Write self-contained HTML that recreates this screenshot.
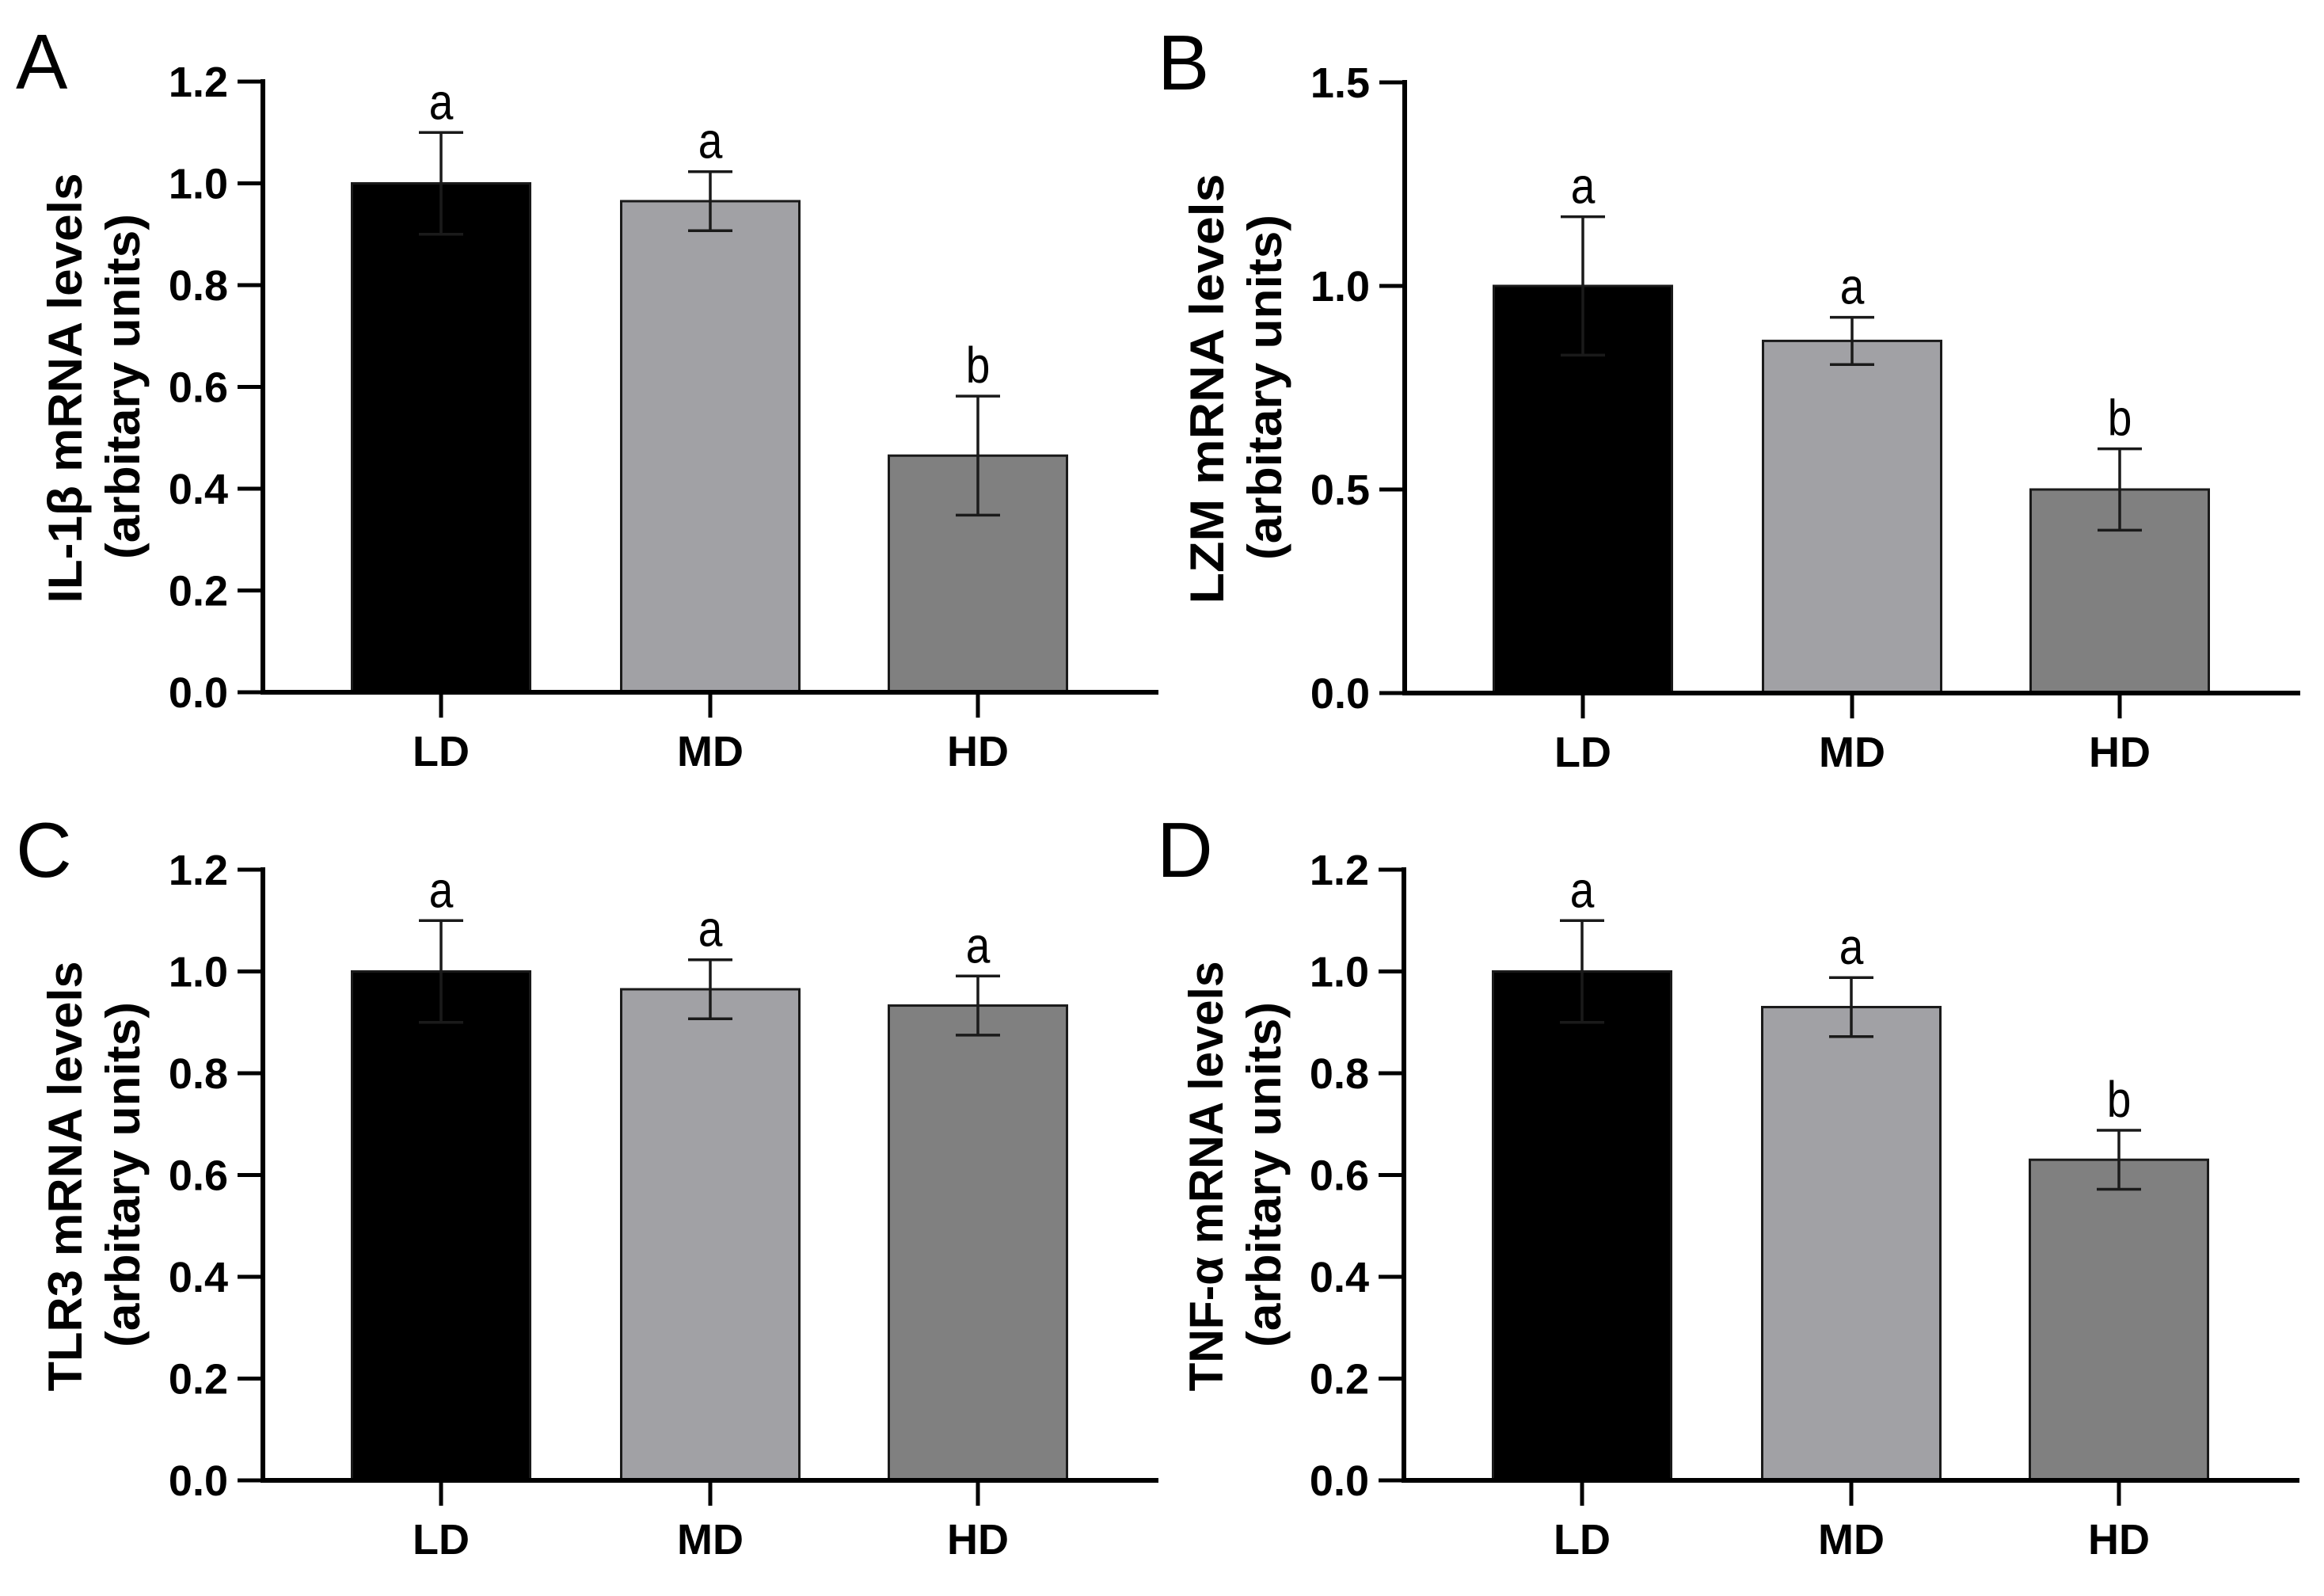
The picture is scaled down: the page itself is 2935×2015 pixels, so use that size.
<!DOCTYPE html>
<html><head><meta charset="utf-8">
<style>
html,body{margin:0;padding:0;background:#fff;}
svg{display:block;}
text{font-family:"Liberation Sans",Arial,sans-serif;}
</style></head>
<body>
<svg id="fig" width="2935" height="2015" viewBox="0 0 2935 2015" xmlns="http://www.w3.org/2000/svg"></svg>
<script>
// ---- data ----
const categories = ["LD", "MD", "HD"];
const barColors = ["#000000", "#a1a1a5", "#808080"];

const panelLetters = ["A", "B", "C", "D"];
const panelTitles = ["IL-1β mRNA levels", "LZM mRNA levels", "TLR3 mRNA levels", "TNF-α mRNA levels"];

const valuesA = [1.0, 0.965, 0.465];
const errorsA = [0.1, 0.058, 0.117];
const lettersA = ["a", "a", "b"];
const ticksA = [0.0, 0.2, 0.4, 0.6, 0.8, 1.0, 1.2];
const tickLabelsA = ["0.0", "0.2", "0.4", "0.6", "0.8", "1.0", "1.2"];

const valuesB = [1.0, 0.865, 0.5];
const errorsB = [0.17, 0.058, 0.1];
const lettersB = ["a", "a", "b"];
const ticksB = [0.0, 0.5, 1.0, 1.5];
const tickLabelsB = ["0.0", "0.5", "1.0", "1.5"];

const valuesC = [1.0, 0.965, 0.933];
const errorsC = [0.1, 0.058, 0.058];
const lettersC = ["a", "a", "a"];
const ticksC = [0.0, 0.2, 0.4, 0.6, 0.8, 1.0, 1.2];
const tickLabelsC = ["0.0", "0.2", "0.4", "0.6", "0.8", "1.0", "1.2"];

const valuesD = [1.0, 0.93, 0.63];
const errorsD = [0.1, 0.058, 0.058];
const lettersD = ["a", "a", "b"];
const ticksD = [0.0, 0.2, 0.4, 0.6, 0.8, 1.0, 1.2];
const tickLabelsD = ["0.0", "0.2", "0.4", "0.6", "0.8", "1.0", "1.2"];

const NS = "http://www.w3.org/2000/svg";
const svg = document.getElementById("fig");
function mk(tag, attrs, parent) {
  const e = document.createElementNS(NS, tag);
  for (const k in attrs) e.setAttribute(k, attrs[k]);
  (parent || svg).appendChild(e);
  return e;
}

function drawPanel(idx, ox, oy, values, errors, letters, ticks, tickLabels) {
  const g = mk("g", {transform: "translate(" + ox + "," + oy + ")"});
  
  
  const axX = 332, y0 = 874, yTop = 103, xEnd = 1463;
  const yMax = ticks[ticks.length - 1];
  const yScale = v => y0 - (v / yMax) * (y0 - yTop);
  const centers = [557, 897, 1235];
  const xScale = i => centers[i];
  const bw = 225;

  const pl = mk("text", {x: 20, y: 112, "font-size": 98}, g);
  pl.textContent = panelLetters[idx];
  
  

  const yl = mk("text", {transform: "translate(103,490) rotate(-90)", "text-anchor": "middle", "font-size": 60, "font-weight": "bold", textLength: 543, lengthAdjust: "spacingAndGlyphs"}, g);
  yl.textContent = panelTitles[idx];
  
  
  const yl2 = mk("text", {transform: "translate(176,488) rotate(-90)", "text-anchor": "middle", "font-size": 60, "font-weight": "bold", textLength: 436, lengthAdjust: "spacingAndGlyphs"}, g);
  yl2.textContent = "(arbitary units)";
  
  

  values.forEach((v, i) => {
    const cx = xScale(i);
    const r = mk("rect", {x: cx - bw / 2, y: yScale(v), width: bw, height: y0 - yScale(v), fill: barColors[i], stroke: "#1a1a1a", "stroke-width": 3}, g);
    
    
    const hi = yScale(v + errors[i]), lo = yScale(v - errors[i]);
    const eb = mk("path", {d: "M" + cx + " " + hi + "V" + lo + "M" + (cx - 28) + " " + hi + "H" + (cx + 28) + "M" + (cx - 28) + " " + lo + "H" + (cx + 28), stroke: "#1a1a1a", "stroke-width": 3.5, fill: "none"}, g);
    
    
    const sl = mk("text", {transform: "translate(" + cx + "," + (hi - 17) + ") scale(0.86,1)", "text-anchor": "middle", "font-size": 64}, g);
    sl.textContent = letters[i];
    
    
  });

  const ya = mk("line", {x1: axX, y1: yTop - 3, x2: axX, y2: y0 + 3, stroke: "#000", "stroke-width": 6}, g);
  
  
  const xa = mk("line", {x1: axX - 3, y1: y0, x2: xEnd, y2: y0, stroke: "#000", "stroke-width": 6}, g);
  
  

  ticks.forEach((t, i) => {
    const y = yScale(t);
    mk("line", {x1: 300, y1: y, x2: axX, y2: y, stroke: "#000", "stroke-width": 5}, g);
    const tl = mk("text", {x: 288, y: y + 19, "text-anchor": "end", "font-size": 54, "font-weight": "bold"}, g);
    tl.textContent = tickLabels[i];
    
    
  });
  categories.forEach((c, i) => {
    const cx = xScale(i);
    mk("line", {x1: cx, y1: y0, x2: cx, y2: 906, stroke: "#000", "stroke-width": 5}, g);
    const cl = mk("text", {x: cx, y: 967, "text-anchor": "middle", "font-size": 54, "font-weight": "bold"}, g);
    cl.textContent = c;
    
    
  });
}

drawPanel(0, 0, 0, valuesA, errorsA, lettersA, ticksA, tickLabelsA);
drawPanel(1, 1442, 1, valuesB, errorsB, lettersB, ticksB, tickLabelsB);
drawPanel(2, 0, 995, valuesC, errorsC, lettersC, ticksC, tickLabelsC);
drawPanel(3, 1441, 995, valuesD, errorsD, lettersD, ticksD, tickLabelsD);
</script>
</body></html>
